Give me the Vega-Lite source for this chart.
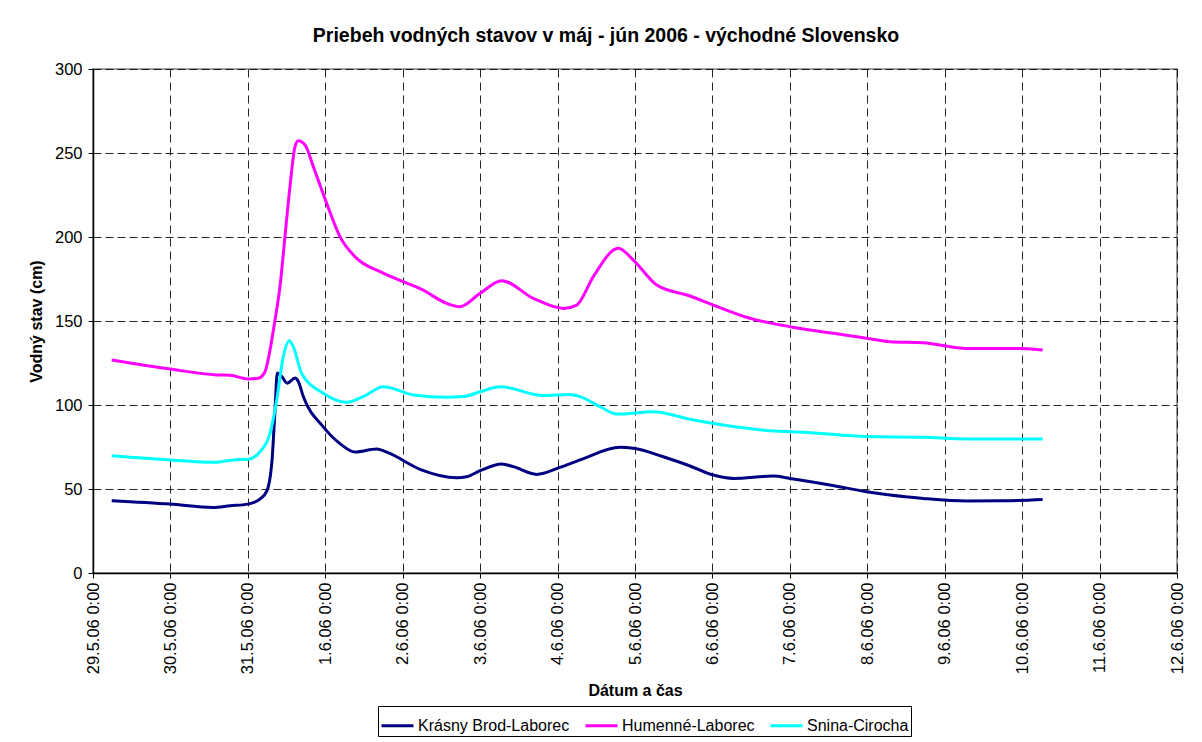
{
  "$schema": "https://vega.github.io/schema/vega-lite/v6.json",
  "width": 1084,
  "height": 504,
  "autosize": {"type": "none"},
  "padding": {"left": 93, "top": 69, "right": 25, "bottom": 169},
  "background": "white",
  "title": {
    "text": "Priebeh vodných stavov v máj - jún 2006 - východné Slovensko",
    "font": "Liberation Sans",
    "fontSize": 19.5,
    "fontWeight": "bold",
    "color": "black",
    "anchor": "middle",
    "frame": "group",
    "dx": -29,
    "offset": 15
  },
  "config": {
    "font": "Liberation Sans",
    "view": {"stroke": "#808080", "strokeWidth": 1.5},
    "axis": {
      "labelFont": "Liberation Sans",
      "labelFontSize": 16.5,
      "labelColor": "black",
      "titleFont": "Liberation Sans",
      "titleFontSize": 16,
      "titleFontWeight": "bold",
      "titleColor": "black",
      "domainColor": "black",
      "domainWidth": 1.5,
      "tickColor": "black",
      "tickSize": 5,
      "gridColor": "black",
      "gridOpacity": 0.85,
      "gridWidth": 1
    }
  },
  "data": {
    "values": [
      {"t": "2006-05-29T05:48", "v": 43, "s": "Krásny Brod-Laborec"},
      {"t": "2006-05-29T23:52", "v": 41, "s": "Krásny Brod-Laborec"},
      {"t": "2006-05-30T13:12", "v": 39, "s": "Krásny Brod-Laborec"},
      {"t": "2006-05-30T18:28", "v": 40, "s": "Krásny Brod-Laborec"},
      {"t": "2006-05-31T00:00", "v": 41, "s": "Krásny Brod-Laborec"},
      {"t": "2006-05-31T03:45", "v": 44, "s": "Krásny Brod-Laborec"},
      {"t": "2006-05-31T05:56", "v": 49, "s": "Krásny Brod-Laborec"},
      {"t": "2006-05-31T07:29", "v": 67, "s": "Krásny Brod-Laborec"},
      {"t": "2006-05-31T08:25", "v": 97, "s": "Krásny Brod-Laborec"},
      {"t": "2006-05-31T09:07", "v": 119, "s": "Krásny Brod-Laborec"},
      {"t": "2006-05-31T10:29", "v": 117, "s": "Krásny Brod-Laborec"},
      {"t": "2006-05-31T12:13", "v": 113, "s": "Krásny Brod-Laborec"},
      {"t": "2006-05-31T14:37", "v": 116, "s": "Krásny Brod-Laborec"},
      {"t": "2006-05-31T15:38", "v": 114, "s": "Krásny Brod-Laborec"},
      {"t": "2006-05-31T17:11", "v": 105, "s": "Krásny Brod-Laborec"},
      {"t": "2006-05-31T23:23", "v": 87, "s": "Krásny Brod-Laborec"},
      {"t": "2006-06-01T04:33", "v": 77, "s": "Krásny Brod-Laborec"},
      {"t": "2006-06-01T09:12", "v": 72, "s": "Krásny Brod-Laborec"},
      {"t": "2006-06-01T15:56", "v": 73.8, "s": "Krásny Brod-Laborec"},
      {"t": "2006-06-01T19:26", "v": 71.6, "s": "Krásny Brod-Laborec"},
      {"t": "2006-06-02T05:21", "v": 61.7, "s": "Krásny Brod-Laborec"},
      {"t": "2006-06-02T16:44", "v": 56.7, "s": "Krásny Brod-Laborec"},
      {"t": "2006-06-02T19:50", "v": 57.3, "s": "Krásny Brod-Laborec"},
      {"t": "2006-06-03T00:00", "v": 60.9, "s": "Krásny Brod-Laborec"},
      {"t": "2006-06-03T06:41", "v": 64.9, "s": "Krásny Brod-Laborec"},
      {"t": "2006-06-03T10:17", "v": 63.3, "s": "Krásny Brod-Laborec"},
      {"t": "2006-06-03T17:32", "v": 58.7, "s": "Krásny Brod-Laborec"},
      {"t": "2006-06-04T00:46", "v": 62.9, "s": "Krásny Brod-Laborec"},
      {"t": "2006-06-04T06:58", "v": 67.3, "s": "Krásny Brod-Laborec"},
      {"t": "2006-06-04T19:22", "v": 74.8, "s": "Krásny Brod-Laborec"},
      {"t": "2006-06-04T23:29", "v": 74.2, "s": "Krásny Brod-Laborec"},
      {"t": "2006-06-05T08:47", "v": 69.2, "s": "Krásny Brod-Laborec"},
      {"t": "2006-06-05T17:03", "v": 63.7, "s": "Krásny Brod-Laborec"},
      {"t": "2006-06-06T00:16", "v": 58.3, "s": "Krásny Brod-Laborec"},
      {"t": "2006-06-06T06:28", "v": 56.3, "s": "Krásny Brod-Laborec"},
      {"t": "2006-06-06T18:52", "v": 57.7, "s": "Krásny Brod-Laborec"},
      {"t": "2006-06-07T00:02", "v": 56.3, "s": "Krásny Brod-Laborec"},
      {"t": "2006-06-07T12:26", "v": 52.4, "s": "Krásny Brod-Laborec"},
      {"t": "2006-06-07T23:48", "v": 48.4, "s": "Krásny Brod-Laborec"},
      {"t": "2006-06-08T07:02", "v": 46.4, "s": "Krásny Brod-Laborec"},
      {"t": "2006-06-08T17:22", "v": 44.4, "s": "Krásny Brod-Laborec"},
      {"t": "2006-06-09T06:49", "v": 42.9, "s": "Krásny Brod-Laborec"},
      {"t": "2006-06-09T18:09", "v": 43, "s": "Krásny Brod-Laborec"},
      {"t": "2006-06-10T06:22", "v": 43.8, "s": "Krásny Brod-Laborec"},

      {"t": "2006-05-29T05:48", "v": 126.8, "s": "Humenné-Laborec"},
      {"t": "2006-05-29T23:52", "v": 121.4, "s": "Humenné-Laborec"},
      {"t": "2006-05-30T14:20", "v": 117.9, "s": "Humenné-Laborec"},
      {"t": "2006-05-30T18:28", "v": 117.7, "s": "Humenné-Laborec"},
      {"t": "2006-05-31T00:08", "v": 115.5, "s": "Humenné-Laborec"},
      {"t": "2006-05-31T03:14", "v": 115.9, "s": "Humenné-Laborec"},
      {"t": "2006-05-31T05:19", "v": 119.8, "s": "Humenné-Laborec"},
      {"t": "2006-05-31T06:52", "v": 132.7, "s": "Humenné-Laborec"},
      {"t": "2006-05-31T08:25", "v": 150.6, "s": "Humenné-Laborec"},
      {"t": "2006-05-31T09:57", "v": 170.4, "s": "Humenné-Laborec"},
      {"t": "2006-05-31T11:30", "v": 200.2, "s": "Humenné-Laborec"},
      {"t": "2006-05-31T13:03", "v": 230, "s": "Humenné-Laborec"},
      {"t": "2006-05-31T14:37", "v": 253.8, "s": "Humenné-Laborec"},
      {"t": "2006-05-31T15:38", "v": 257.3, "s": "Humenné-Laborec"},
      {"t": "2006-05-31T17:43", "v": 254.8, "s": "Humenné-Laborec"},
      {"t": "2006-05-31T20:17", "v": 241.9, "s": "Humenné-Laborec"},
      {"t": "2006-06-01T00:26", "v": 220, "s": "Humenné-Laborec"},
      {"t": "2006-06-01T04:33", "v": 200.2, "s": "Humenné-Laborec"},
      {"t": "2006-06-01T09:44", "v": 187.3, "s": "Humenné-Laborec"},
      {"t": "2006-06-01T16:58", "v": 179.4, "s": "Humenné-Laborec"},
      {"t": "2006-06-02T00:11", "v": 173.4, "s": "Humenné-Laborec"},
      {"t": "2006-06-02T05:53", "v": 168.8, "s": "Humenné-Laborec"},
      {"t": "2006-06-02T13:38", "v": 160.5, "s": "Humenné-Laborec"},
      {"t": "2006-06-02T17:45", "v": 158.5, "s": "Humenné-Laborec"},
      {"t": "2006-06-03T00:00", "v": 166.5, "s": "Humenné-Laborec"},
      {"t": "2006-06-03T06:41", "v": 174, "s": "Humenné-Laborec"},
      {"t": "2006-06-03T16:29", "v": 163.5, "s": "Humenné-Laborec"},
      {"t": "2006-06-04T01:47", "v": 157.5, "s": "Humenné-Laborec"},
      {"t": "2006-06-04T05:56", "v": 159.5, "s": "Humenné-Laborec"},
      {"t": "2006-06-04T11:05", "v": 176.4, "s": "Humenné-Laborec"},
      {"t": "2006-06-04T18:50", "v": 193.3, "s": "Humenné-Laborec"},
      {"t": "2006-06-04T23:29", "v": 186.3, "s": "Humenné-Laborec"},
      {"t": "2006-06-05T06:44", "v": 171.4, "s": "Humenné-Laborec"},
      {"t": "2006-06-05T17:03", "v": 164.9, "s": "Humenné-Laborec"},
      {"t": "2006-06-06T00:16", "v": 159.5, "s": "Humenné-Laborec"},
      {"t": "2006-06-06T11:38", "v": 151.6, "s": "Humenné-Laborec"},
      {"t": "2006-06-07T00:02", "v": 146.6, "s": "Humenné-Laborec"},
      {"t": "2006-06-07T13:28", "v": 142.7, "s": "Humenné-Laborec"},
      {"t": "2006-06-07T23:48", "v": 139.7, "s": "Humenné-Laborec"},
      {"t": "2006-06-08T07:02", "v": 137.7, "s": "Humenné-Laborec"},
      {"t": "2006-06-08T17:22", "v": 137.1, "s": "Humenné-Laborec"},
      {"t": "2006-06-09T06:49", "v": 133.7, "s": "Humenné-Laborec"},
      {"t": "2006-06-10T00:21", "v": 133.7, "s": "Humenné-Laborec"},
      {"t": "2006-06-10T06:22", "v": 132.7, "s": "Humenné-Laborec"},

      {"t": "2006-05-29T05:48", "v": 69.8, "s": "Snina-Cirocha"},
      {"t": "2006-05-29T23:52", "v": 67.3, "s": "Snina-Cirocha"},
      {"t": "2006-05-30T13:49", "v": 65.9, "s": "Snina-Cirocha"},
      {"t": "2006-05-30T19:29", "v": 67.3, "s": "Snina-Cirocha"},
      {"t": "2006-05-31T00:08", "v": 67.7, "s": "Snina-Cirocha"},
      {"t": "2006-05-31T03:45", "v": 72.2, "s": "Snina-Cirocha"},
      {"t": "2006-05-31T06:52", "v": 83.1, "s": "Snina-Cirocha"},
      {"t": "2006-05-31T08:57", "v": 103, "s": "Snina-Cirocha"},
      {"t": "2006-05-31T10:59", "v": 128.8, "s": "Snina-Cirocha"},
      {"t": "2006-05-31T12:51", "v": 138.3, "s": "Snina-Cirocha"},
      {"t": "2006-05-31T14:05", "v": 134.7, "s": "Snina-Cirocha"},
      {"t": "2006-05-31T16:41", "v": 118.8, "s": "Snina-Cirocha"},
      {"t": "2006-05-31T23:23", "v": 107, "s": "Snina-Cirocha"},
      {"t": "2006-06-01T06:38", "v": 101.6, "s": "Snina-Cirocha"},
      {"t": "2006-06-01T11:47", "v": 105, "s": "Snina-Cirocha"},
      {"t": "2006-06-01T17:59", "v": 110.9, "s": "Snina-Cirocha"},
      {"t": "2006-06-02T03:17", "v": 106, "s": "Snina-Cirocha"},
      {"t": "2006-06-02T13:38", "v": 104.6, "s": "Snina-Cirocha"},
      {"t": "2006-06-02T18:47", "v": 105, "s": "Snina-Cirocha"},
      {"t": "2006-06-03T00:00", "v": 107.9, "s": "Snina-Cirocha"},
      {"t": "2006-06-03T06:12", "v": 110.9, "s": "Snina-Cirocha"},
      {"t": "2006-06-03T19:38", "v": 105.6, "s": "Snina-Cirocha"},
      {"t": "2006-06-04T03:54", "v": 106.3, "s": "Snina-Cirocha"},
      {"t": "2006-06-04T06:58", "v": 105, "s": "Snina-Cirocha"},
      {"t": "2006-06-04T13:10", "v": 99, "s": "Snina-Cirocha"},
      {"t": "2006-06-04T18:20", "v": 94.6, "s": "Snina-Cirocha"},
      {"t": "2006-06-05T05:41", "v": 96, "s": "Snina-Cirocha"},
      {"t": "2006-06-05T17:03", "v": 91.5, "s": "Snina-Cirocha"},
      {"t": "2006-06-06T03:22", "v": 88.1, "s": "Snina-Cirocha"},
      {"t": "2006-06-06T17:50", "v": 84.7, "s": "Snina-Cirocha"},
      {"t": "2006-06-07T05:12", "v": 83.7, "s": "Snina-Cirocha"},
      {"t": "2006-06-07T23:48", "v": 81.2, "s": "Snina-Cirocha"},
      {"t": "2006-06-08T17:22", "v": 80.8, "s": "Snina-Cirocha"},
      {"t": "2006-06-09T06:49", "v": 79.8, "s": "Snina-Cirocha"},
      {"t": "2006-06-10T06:22", "v": 79.8, "s": "Snina-Cirocha"}
    ]
  },
  "mark": {"type": "line", "strokeWidth": 3, "interpolate": "monotone"},
  "encoding": {
    "x": {
      "field": "t",
      "type": "temporal",
      "scale": {
        "domain": [
          {"year": 2006, "month": 5, "date": 29},
          {"year": 2006, "month": 6, "date": 12}
        ],
        "nice": false
      },
      "axis": {
        "title": "Dátum a čas",
        "format": "%-d.%-m.%y %-H:%M",
        "labelAngle": 270,
        "labelAlign": "right",
        "labelBaseline": "middle",
        "labelPadding": 4,
        "labelOverlap": false,
        "tickCount": {"interval": "day", "step": 1},
        "gridDash": [8, 5],
        "titleY": 122,
        "titleBaseline": "alphabetic"
      }
    },
    "y": {
      "field": "v",
      "type": "quantitative",
      "scale": {"domain": [0, 300], "nice": false},
      "axis": {
        "title": "Vodný stav (cm)",
        "values": [0, 50, 100, 150, 200, 250, 300],
        "labelPadding": 6,
        "gridDash": [8, 4],
        "titlePadding": 10
      }
    },
    "color": {
      "field": "s",
      "type": "nominal",
      "sort": null,
      "scale": {
        "domain": ["Krásny Brod-Laborec", "Humenné-Laborec", "Snina-Cirocha"],
        "range": ["#000080", "#FF00FF", "#00FFFF"]
      },
      "legend": {
        "title": null,
        "orient": "none",
        "legendX": 285,
        "legendY": 637,
        "direction": "horizontal",
        "symbolType": "stroke",
        "symbolSize": 1024,
        "symbolStrokeWidth": 3,
        "labelFont": "Liberation Sans",
        "labelFontSize": 16,
        "labelColor": "black",
        "labelOffset": 3,
        "columnPadding": 9,
        "padding": 2,
        "strokeColor": "black",
        "fillColor": "white"
      }
    }
  }
}
